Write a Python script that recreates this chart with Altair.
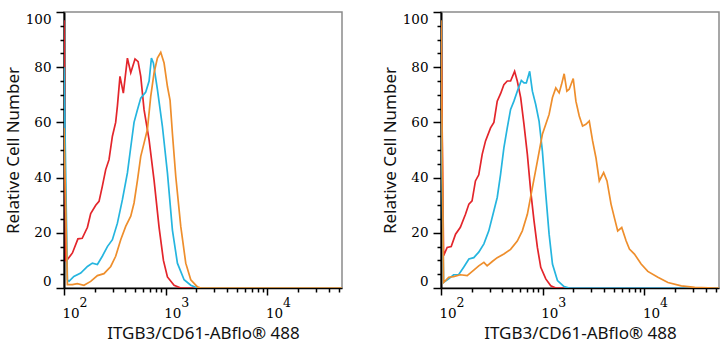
import altair as alt
import pandas as pd

# ---------------- data (fluorescence intensity vs relative cell number) ----------------
# Left panel
L_red_x = [100, 104, 108, 121, 137, 151, 170, 183, 205, 221, 238, 257, 277, 299, 322, 335,
           355, 383, 420, 453, 499, 535, 568, 612, 686, 768, 860, 949, 1039, 1208, 1405, 54000]
L_red_y = [97, 10, 10.3, 12.7, 17.8, 18, 22, 27, 30, 31.4, 36.8, 42.9, 46.5, 55, 60, 66,
           76.7, 70.6, 83.3, 78, 83, 82, 76.7, 64.6, 53.7, 39, 22, 10, 4, 1, 0, 0]

L_cyan_x = [100, 108, 112, 125, 146, 170, 190, 213, 238, 267, 299, 335, 375, 420, 453, 488,
            527, 568, 636, 686, 723, 756, 828, 927, 1039, 1163, 1302, 1515, 1762, 2049, 54000]
L_cyan_y = [80, 3, 2.4, 4.2, 5.4, 7.8, 9, 8.5, 11.5, 15, 17.5, 23.5, 32, 41.7, 51, 60,
            64.6, 68.8, 71, 75, 83.3, 81.5, 72, 58.6, 41.7, 21, 9, 3, 1, 0, 0]

L_orange_x = [100, 108, 121, 135, 157, 183, 213, 247, 288, 322, 361, 404, 453, 488, 527, 568,
              612, 660, 712, 768, 828, 893, 963, 1039, 1103, 1163, 1254, 1405, 1573, 1762,
              2049, 2210, 54000]
L_orange_y = [58, 1.2, 1.2, 1.6, 1, 2.4, 4.5, 5.2, 7.8, 11.5, 17.5, 22.3, 26, 30.8, 39, 47.7,
              52.5, 57.4, 69.4, 78, 83.3, 85.4, 81.5, 73, 68, 56, 40.5, 22.3, 9, 3,
              0.4, 0, 0]

# Right panel
R_red_x = [100, 106, 115, 126, 139, 155, 174, 188, 202, 218, 235, 254, 274, 307, 331, 357,
           385, 415, 448, 483, 529, 562, 607, 654, 706, 761, 821, 886, 956, 1071, 1199, 1344, 54000]
R_red_y = [95, 11.7, 14.7, 15, 19.5, 22, 26.7, 30.4, 31.6, 38.8, 41, 48.4, 53.3, 58, 60, 67.7,
           70.4, 73.7, 75, 75, 78.5, 75, 69, 59.3, 48.4, 35.2, 24.3, 14.7, 7.5, 3.3, 0.8, 0, 0]

R_cyan_x = [100, 106, 119, 133, 149, 167, 188, 210, 235, 264, 295, 331, 357, 385, 415, 448,
            483, 521, 571, 616, 654, 690, 744, 791, 853, 920, 992, 1071, 1155, 1246, 1395,
            1624, 1820, 54000]
R_cyan_y = [70, 2, 3.3, 4.8, 4.8, 7.5, 10.5, 11, 13, 16, 20.7, 28, 32.8, 41.2, 50.8, 58,
            64.7, 67.7, 72, 75.2, 74.3, 74.3, 78.5, 71.3, 66.5, 60.5, 49.6, 34, 19.5, 8.7, 2.7,
            0.5, 0, 0]

R_orange_x = [100, 106, 119, 133, 155, 181, 210, 235, 264, 284, 319, 357, 415, 483, 562, 630,
              706, 791, 886, 992, 1071, 1155, 1246, 1344, 1450, 1529, 1624, 1726, 1820, 1993,
              2118, 2284, 2463, 2656, 2865, 3091, 3334, 3596, 3968, 4280, 4690, 5057, 5456,
              5975, 6593, 7112, 7966, 9271, 10787, 13542, 17003, 23003, 31148, 49070, 54000]
R_orange_y = [97, 2, 3.9, 4.1, 4.8, 4.5, 6.5, 8, 9.3, 8, 9.6, 11, 12.3, 14, 17, 20.7,
              26.7, 36.4, 46, 55.7, 59.3, 62.9, 69, 72.5, 70.7, 73.7, 77.6, 71.3, 72, 75.9,
              67.7, 62.3, 58.7, 59.3, 60.5, 53.3, 47.2, 38.8, 41.8, 38.8, 30.4, 25.5, 20.7,
              21.9, 17.1, 14.1, 12.3, 8.7, 6, 3.9, 2, 0.8, 0.2, 0, 0]

# Axis ticks
MAJOR_X = [100, 1000, 10000]
MINOR_X = [200, 300, 400, 500, 600, 700, 800, 900,
           2000, 3000, 4000, 5000, 6000, 7000, 8000, 9000,
           20000, 30000, 40000, 50000]
MAJOR_Y = [0, 20, 40, 60, 80, 100]
MINOR_Y = [5, 10, 15, 25, 30, 35, 45, 50, 55, 65, 70, 75, 85, 90, 95]

X_TITLE = "ITGB3/CD61-ABflo® 488"
Y_TITLE = "Relative Cell Number"

RED = "#e3252b"
CYAN = "#25b5df"
ORANGE = "#ee8e2c"

W, H = 278, 276
XMAX = 54000
SERIF = "DejaVu Serif"
SANS = "Noto Sans"


def df(x, y):
    return pd.DataFrame({"intensity": x, "count": y})


def panel(red, cyan, orange):
    xs = alt.Scale(type="log", domain=[100, XMAX], nice=False)
    ys = alt.Scale(domain=[0, 100], nice=False)

    major = alt.Chart(df(*red)).mark_line(color=RED, strokeWidth=1.7, clip=True).encode(
        x=alt.X("intensity:Q", scale=xs, axis=alt.Axis(
            orient="bottom", values=MAJOR_X, labelExpr="'10'", grid=False,
            tickSize=7, tickWidth=1.5, tickColor="black",
            domainColor="black", domainWidth=1.5,
            labelAlign="left", labelOffset=-2, labelPadding=11, labelBaseline="top",
            labelFlush=False, labelOverlap=False,
            labelFont=SERIF, labelFontSize=13.5, labelColor="black",
            title=X_TITLE, titleFont=SANS, titleFontSize=17, titleFontWeight="normal",
            titleColor="#111111", titlePadding=6)),
        y=alt.Y("count:Q", scale=ys, axis=alt.Axis(
            orient="left", values=MAJOR_Y, grid=False,
            tickSize=8, tickWidth=1.5, tickColor="black",
            domainColor="black", domainWidth=2,
            labelPadding=5, labelFlush=True, labelOverlap=False,
            labelFont=SERIF, labelFontSize=13.5, labelColor="black",
            title=Y_TITLE, titleFont=SANS, titleFontSize=17, titleFontWeight="normal",
            titleColor="#111111", titlePadding=3)),
    )

    minor = alt.Chart(df(*cyan)).mark_line(color=CYAN, strokeWidth=1.7, clip=True).encode(
        x=alt.X("intensity:Q", scale=xs, axis=alt.Axis(
            orient="bottom", values=MINOR_X, grid=False, labels=False, domain=False,
            tickSize=4, tickWidth=1.5, tickColor="black", title=None)),
        y=alt.Y("count:Q", scale=ys, axis=alt.Axis(
            orient="left", values=MINOR_Y, grid=False, labels=False, domain=False,
            tickSize=4, tickWidth=1.5, tickColor="black", title=None)),
    )

    sup = alt.Chart(df(*orange)).mark_line(color=ORANGE, strokeWidth=1.7, clip=True).encode(
        x=alt.X("intensity:Q", scale=xs, axis=alt.Axis(
            orient="bottom", values=MAJOR_X, grid=False, ticks=False, domain=False,
            labelExpr="format(round(log(datum.value) / LN10), 'd')",
            labelAlign="left", labelOffset=15, labelPadding=8, labelBaseline="top",
            labelFlush=False, labelOverlap=False,
            labelFont=SERIF, labelFontSize=12.5, labelColor="black", title=None)),
        y=alt.Y("count:Q", scale=ys, axis=None),
    )

    return alt.layer(major, minor, sup).resolve_axis(
        x="independent", y="independent"
    ).properties(width=W, height=H)


left = panel((L_red_x, L_red_y), (L_cyan_x, L_cyan_y), (L_orange_x, L_orange_y))
right = panel((R_red_x, R_red_y), (R_cyan_x, R_cyan_y), (R_orange_x, R_orange_y))

chart = alt.hconcat(left, right, spacing=37).properties(
    padding={"left": 3, "top": 10, "right": 0, "bottom": 0},
    background="white",
).configure_view(stroke="#8a8a8a", strokeWidth=1.5)

chart.save("out.html", embed_options={"renderer": "svg", "actions": False})
